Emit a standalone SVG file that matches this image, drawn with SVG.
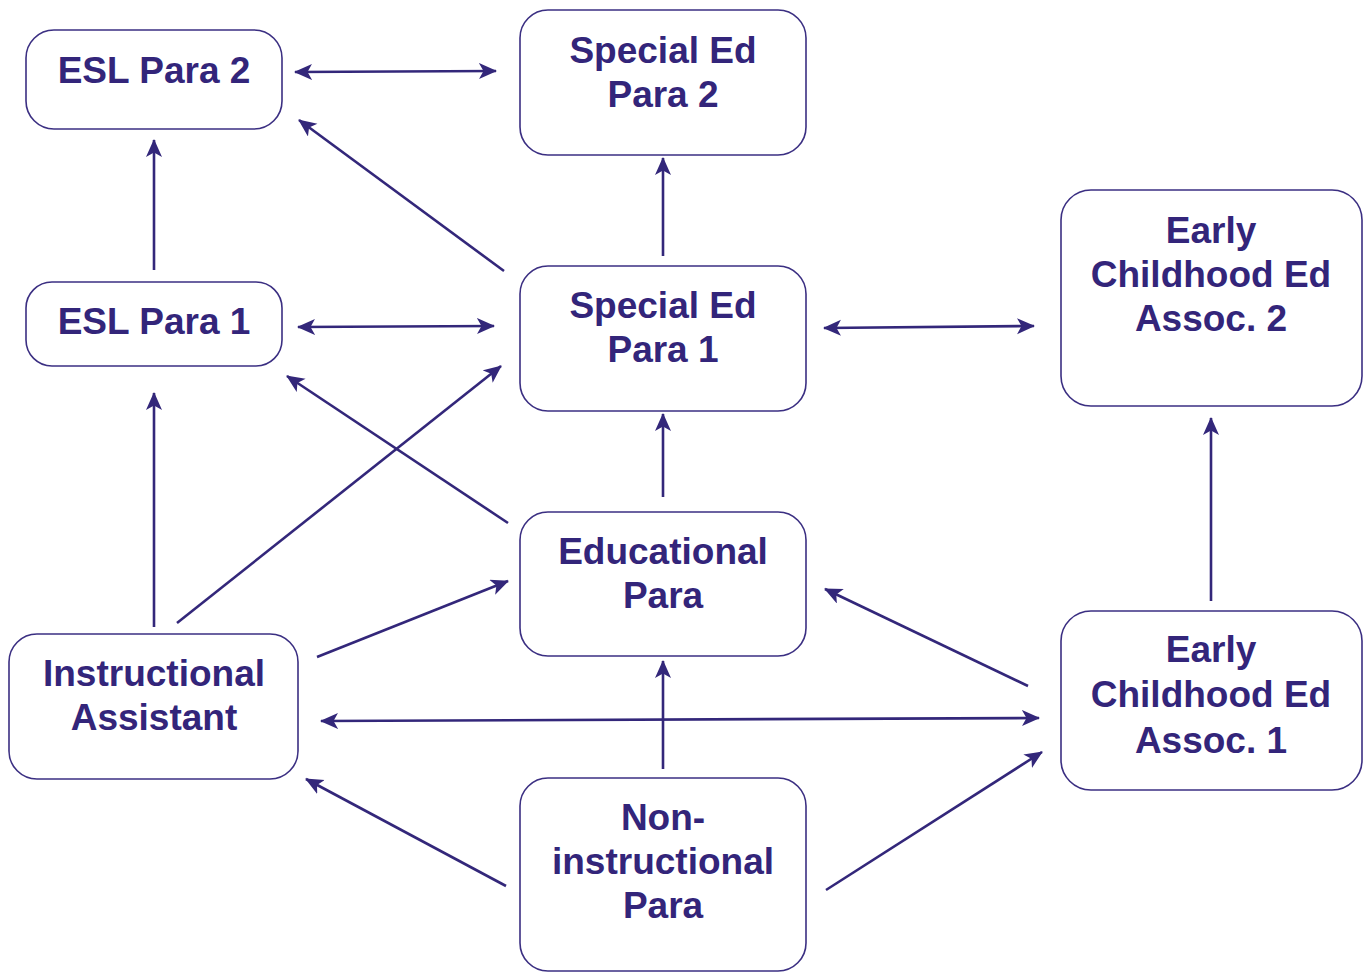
<svg xmlns="http://www.w3.org/2000/svg" width="1365" height="973" viewBox="0 0 1365 973">
<style>
.box{fill:#fff;stroke:#3b2f82;stroke-width:1.6}
.t{font-family:"Liberation Sans",Arial,sans-serif;font-weight:bold;font-size:37px;fill:#33257a;text-anchor:middle}
.c{stroke:#33277a;stroke-width:2.6;fill:none;marker-end:url(#ah)}
.d{marker-start:url(#ah)}
</style>
<defs>
<marker id="ah" markerUnits="userSpaceOnUse" markerWidth="20" markerHeight="18" refX="17" refY="8" orient="auto-start-reverse" viewBox="0 0 20 18">
<path d="M0,0 L18,8 L0,16 L4.5,8 Z" fill="#33277a"/>
</marker>
</defs>
<rect width="1365" height="973" fill="#fff"/>
<g id="connectors">
<line class="c d" x1="295" y1="72" x2="496" y2="71"/>
<line class="c" x1="154" y1="270" x2="154" y2="140"/>
<line class="c" x1="504" y1="271" x2="299" y2="120"/>
<line class="c" x1="663" y1="256" x2="663" y2="158"/>
<line class="c d" x1="298" y1="327" x2="494" y2="326"/>
<line class="c d" x1="824" y1="328" x2="1034" y2="326"/>
<line class="c" x1="508" y1="523" x2="287" y2="376"/>
<line class="c" x1="177" y1="623" x2="501" y2="366"/>
<line class="c" x1="154" y1="627" x2="154" y2="393"/>
<line class="c" x1="663" y1="497" x2="663" y2="414"/>
<line class="c" x1="1211" y1="601" x2="1211" y2="418"/>
<line class="c" x1="317" y1="657" x2="508" y2="581"/>
<line class="c" x1="1028" y1="686" x2="825" y2="589"/>
<line class="c d" x1="321" y1="721" x2="1039" y2="718"/>
<line class="c" x1="663" y1="769" x2="663" y2="661"/>
<line class="c" x1="506" y1="886" x2="306" y2="779"/>
<line class="c" x1="826" y1="890" x2="1042" y2="752"/>
</g>
<g id="esl2"><rect class="box" x="26" y="30" width="256" height="99" rx="28"/><text class="t" x="154" y="83">ESL Para 2</text></g>
<g id="sped2"><rect class="box" x="520" y="10" width="286" height="145" rx="28"/><text class="t" x="663" y="63">Special Ed</text><text class="t" x="663" y="107">Para 2</text></g>
<g id="esl1"><rect class="box" x="26" y="282" width="256" height="84" rx="26"/><text class="t" x="154" y="334">ESL Para 1</text></g>
<g id="sped1"><rect class="box" x="520" y="266" width="286" height="145" rx="28"/><text class="t" x="663" y="318">Special Ed</text><text class="t" x="663" y="362">Para 1</text></g>
<g id="ece2"><rect class="box" x="1061" y="190" width="301" height="216" rx="30"/><text class="t" x="1211" y="243">Early</text><text class="t" x="1211" y="287">Childhood Ed</text><text class="t" x="1211" y="331">Assoc. 2</text></g>
<g id="edpara"><rect class="box" x="520" y="512" width="286" height="144" rx="28"/><text class="t" x="663" y="564">Educational</text><text class="t" x="663" y="608">Para</text></g>
<g id="instr"><rect class="box" x="9" y="634" width="289" height="145" rx="28"/><text class="t" x="154" y="686">Instructional</text><text class="t" x="154" y="730">Assistant</text></g>
<g id="ece1"><rect class="box" x="1061" y="611" width="301" height="179" rx="30"/><text class="t" x="1211" y="662">Early</text><text class="t" x="1211" y="707">Childhood Ed</text><text class="t" x="1211" y="753">Assoc. 1</text></g>
<g id="noninstr"><rect class="box" x="520" y="778" width="286" height="193" rx="28"/><text class="t" x="663" y="830">Non-</text><text class="t" x="663" y="874">instructional</text><text class="t" x="663" y="918">Para</text></g>
</svg>
